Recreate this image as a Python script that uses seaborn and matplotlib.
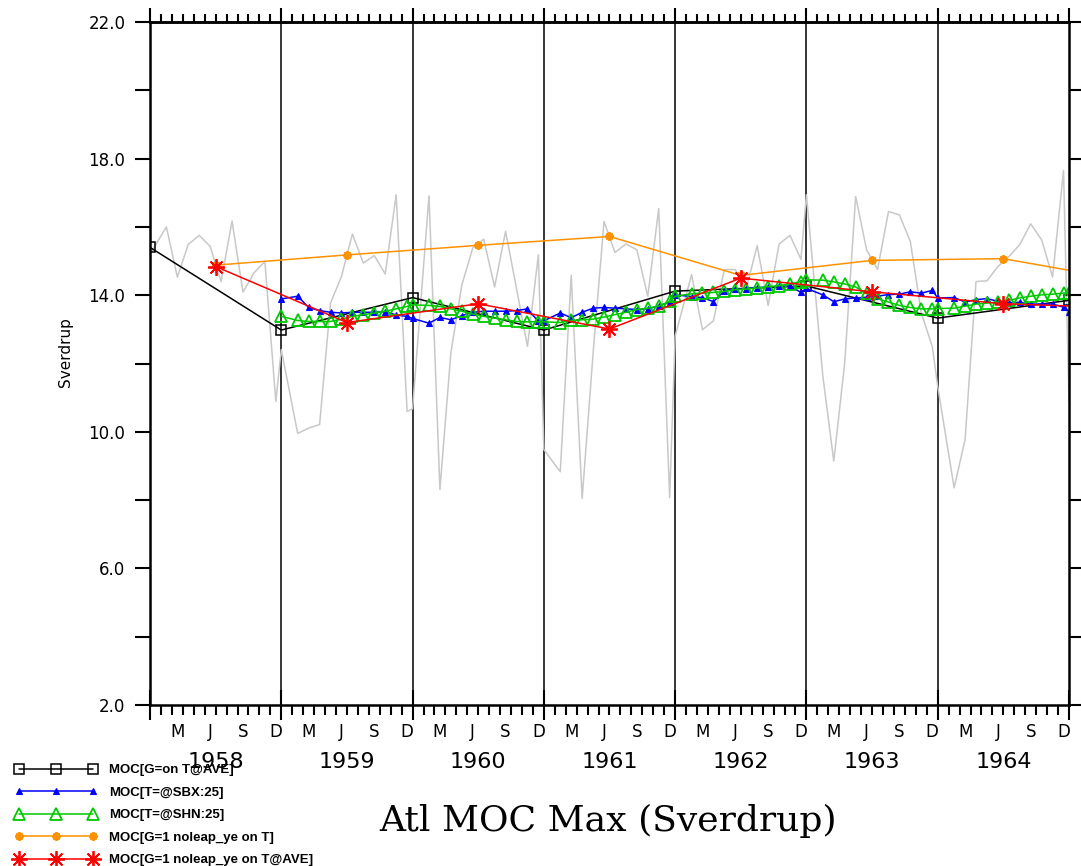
import numpy as np
import pandas as pd
import matplotlib
matplotlib.use("Agg")
import matplotlib.pyplot as plt
import matplotlib.transforms as mtransforms
from matplotlib.lines import Line2D
import seaborn as sns

# ---------------- data ----------------
year_starts = [1958, 1959, 1960, 1961, 1962, 1963, 1964, 1965]
year_labels = ["1958", "1959", "1960", "1961", "1962", "1963", "1964"]
month_labels = ["M", "J", "S", "D"]
month_label_index = [2, 5, 8, 11]
y_ticks = [2.0, 6.0, 10.0, 14.0, 18.0, 22.0]

# raw monthly MOC, Jan 1958 .. Jan 1965
moc_raw = [
    15.2, 16.0, 14.53, 15.49, 15.75, 15.43, 14.4, 16.17, 14.09, 14.65, 14.99, 10.89,
    12.41, 9.95, 10.11, 10.21, 13.77, 14.55, 15.79, 14.94, 15.16, 14.62, 16.94, 10.6,
    10.67, 16.91, 8.31, 12.31, 14.3, 15.38, 15.64, 14.24, 15.87, 14.2, 12.5, 15.18,
    9.48, 8.83, 14.58, 8.05, 12.3, 16.16, 15.25, 15.5, 15.33, 13.97, 16.54, 8.07,
    12.8, 14.6, 12.99, 13.25, 14.75, 14.75, 14.2, 15.45, 13.7, 15.5, 15.75, 15.05,
    16.94, 11.63, 9.14, 12.02, 16.89, 15.33, 14.75, 16.45, 16.35, 15.57, 13.48, 12.5,
    11.33, 8.36, 9.77, 14.4, 14.42, 14.84, 15.13, 15.48, 16.09, 15.62, 14.53, 17.65,
    10.89,
]

# MOC[T=@SBX:25], Jan 1959 .. Jan 1965
moc_sbx = [
    13.89, 13.97, 13.64, 13.55, 13.5, 13.48, 13.5, 13.5, 13.5, 13.52, 13.42, 13.38,
    13.32, 13.18, 13.35, 13.28, 13.4, 13.5, 13.53, 13.53, 13.53, 13.55, 13.6, 13.23,
    13.25, 13.48, 13.34, 13.5, 13.62, 13.64, 13.62, 13.6, 13.58, 13.6, 13.68, 13.8,
    14.01, 13.96, 13.93, 13.81, 14.13, 14.18, 14.19, 14.22, 14.24, 14.26, 14.27, 14.08,
    14.2, 14.01, 13.81, 13.89, 13.92, 13.94, 13.97, 14.02, 14.03, 14.1, 14.06, 14.14,
    13.92, 13.93, 13.8, 13.87, 13.9, 13.82, 13.78, 13.79, 13.74, 13.74, 13.74, 13.65,
    13.52,
]

# MOC[T=@SHN:25], Jan 1959 .. Jan 1965
moc_shn = [
    13.38, 13.26, 13.23, 13.23, 13.23, 13.3, 13.38, 13.43, 13.48, 13.53, 13.6, 13.67,
    13.72, 13.7, 13.67, 13.6, 13.53, 13.45, 13.38, 13.33, 13.28, 13.23, 13.22, 13.22,
    13.22, 13.2, 13.26, 13.28, 13.3, 13.36, 13.43, 13.5, 13.58, 13.62, 13.68, 13.82,
    13.97, 14.04, 14.06, 14.08, 14.11, 14.16, 14.18, 14.21, 14.25, 14.28, 14.33, 14.4,
    14.45, 14.44, 14.39, 14.33, 14.24, 14.05, 13.9, 13.8, 13.7, 13.64, 13.6, 13.6,
    13.61, 13.62, 13.68, 13.74, 13.77, 13.8, 13.85, 13.92, 13.97, 14.01, 14.03, 14.06,
    14.07,
]

# MOC[G=on T@AVE], at year starts 1958 .. 1965
moc_ave_g = [15.4, 12.98, 13.93, 12.98, 14.12, 14.27, 13.33, 13.85]

# annual noleap axis (mid-year) 1958 .. 1965
annual_years = [1958, 1959, 1960, 1961, 1962, 1963, 1964, 1965]
moc_noleap = [14.88, 15.18, 15.46, 15.72, 14.58, 15.02, 15.07, 14.39]
moc_noleap_ave = [14.84, 13.2, 13.75, 13.01, 14.5, 14.1, 13.75, 13.62]

legend_labels = [
    "MOC[G=on T@AVE]",
    "MOC[T=@SBX:25]",
    "MOC[T=@SHN:25]",
    "MOC[G=1 noleap_ye on T]",
    "MOC[G=1 noleap_ye on T@AVE]",
]


def month_times(first_year, n):
    out = []
    for i in range(n):
        yr = first_year + i // 12
        k = i % 12
        out.append(yr + (0.0 if k == 0 else (k + 0.5) / 12.0))
    return out


t_raw = month_times(1958, len(moc_raw))
t_smooth = month_times(1959, len(moc_sbx))
t_year = [float(y) for y in year_starts]
t_mid = [y + 0.5 for y in annual_years]

# ---------------- style ----------------
sns.set_theme(style="ticks", rc={
    "text.color": "black", "axes.labelcolor": "black",
    "xtick.color": "black", "ytick.color": "black", "axes.edgecolor": "black",
})
plt.rcParams["font.family"] = ["DejaVu Sans"]

W, H = 1081, 866
fig = plt.figure(figsize=(W / 100, H / 100), dpi=100)
L, R, T, B = 150, 1069, 22, 705
ax = fig.add_axes([L / W, 1 - B / H, (R - L) / W, (B - T) / H])
ax.set_facecolor("white")

styles = [
    dict(color="black", marker="s", markersize=7.5, markerfacecolor="none",
         markeredgecolor="black", markeredgewidth=1.1, linewidth=1.1),
    dict(color="#0000ff", marker="^", markersize=4.5, markerfacecolor="#0000ff",
         markeredgecolor="#0000ff", markeredgewidth=0.8, linewidth=1.1),
    dict(color="#00c800", marker="^", markersize=9, markerfacecolor="none",
         markeredgecolor="#00c800", markeredgewidth=1.3, linewidth=1.1),
    dict(color="#ff9200", marker=(8, 2, 0), markersize=6, markerfacecolor="#ff9200",
         markeredgecolor="#ff9200", markeredgewidth=1.6, linewidth=1.1),
    dict(color="#ff0000", marker=(8, 2, 0), markersize=12, markerfacecolor="#ff0000",
         markeredgecolor="#ff0000", markeredgewidth=1.3, linewidth=1.1),
]

sns.lineplot(x=t_raw, y=moc_raw, ax=ax, color="#c8c8c8", linewidth=1.1,
             estimator=None, sort=False, legend=False)

series = [
    (t_year, moc_ave_g),
    (t_smooth, moc_sbx),
    (t_smooth, moc_shn),
    (t_mid, moc_noleap),
    (t_mid, moc_noleap_ave),
]
for (xs, ys), st in zip(series, styles):
    sns.lineplot(x=xs, y=ys, ax=ax, estimator=None, sort=False, legend=False, **st)

# year grid lines
for yr in year_starts[1:-1]:
    ax.axvline(yr, color="black", linewidth=1.1, zorder=0.5)

ax.set_xlim(1958, 1965)
ax.set_ylim(2, 22)
ax.set_xlabel("")
ax.set_ylabel("")

# x ticks
ax.set_xticks(t_year)
ax.set_xticks([1958 + i / 12 for i in range(85)], minor=True)
ax.set_xticklabels([])
ax.tick_params(axis="x", which="major", direction="inout", length=22, width=1.5,
               color="black", bottom=True, top=False)
ax.tick_params(axis="x", which="minor", direction="out", length=7.2, width=1.5,
               color="black", bottom=True, top=False)

sec = ax.secondary_xaxis("top")
sec.set_xticks(t_year)
sec.set_xticks([1958 + i / 12 for i in range(85)], minor=True)
sec.set_xticklabels([])
sec.tick_params(axis="x", which="major", direction="out", length=10, width=1.5, color="black")
sec.tick_params(axis="x", which="minor", direction="out", length=5.5, width=1.5, color="black")
sec.spines["top"].set_linewidth(1.8)
sec.spines["top"].set_color("black")

# y ticks
ax.set_yticks(y_ticks)
ax.set_yticklabels([f"{v:.1f}" for v in y_ticks], fontsize=12, color="black")
ax.set_yticks([4, 8, 12, 16, 20], minor=True)
ax.tick_params(axis="y", which="both", direction="out", length=10.8, width=1.5,
               color="black", left=True, right=True, pad=7)

for sp in ax.spines.values():
    sp.set_color("black")
    sp.set_linewidth(1.8)

trans = mtransforms.blended_transform_factory(ax.transData, ax.transAxes)
for yr in year_starts[:-1]:
    for lab, k in zip(month_labels, month_label_index):
        ax.text(yr + (k + 0.5) / 12, -27 / (B - T), lab, transform=trans,
                ha="center", va="center", fontsize=12, color="black")
for yr, lab in zip(year_starts[:-1], year_labels):
    ax.text(yr + 0.5, -57 / (B - T), lab, transform=trans, ha="center",
            va="center", fontsize=16, color="black")

fig.text(65 / W, 1 - 352 / H, "Sverdrup", rotation=90, ha="center", va="center",
         fontsize=11, color="black")
fig.text(608 / W, 1 - 831 / H, "Atl MOC Max (Sverdrup)", ha="center",
         va="baseline", fontsize=26, family="DejaVu Serif", color="black")

handles = [Line2D([], [], **st) for st in styles]
leg = fig.legend(handles, legend_labels, loc="upper left",
                 bbox_to_anchor=(15 / W, 1 - 764 / H), frameon=False, numpoints=3,
                 handlelength=6.2, handletextpad=0.9, borderpad=0, borderaxespad=0,
                 labelspacing=0.78,
                 prop=dict(family=["Liberation Sans", "DejaVu Sans"],
                           weight="bold", size=9.5))
for txt in leg.get_texts():
    txt.set_color("black")

fig.savefig("out.png", dpi=100, facecolor="white")
